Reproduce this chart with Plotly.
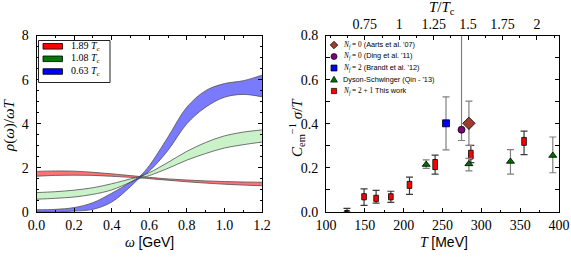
import plotly.graph_objects as go

W, H = 571, 264

# ---------------- Left panel data: spectral function bands ----------------
omega = [0.0, 0.1, 0.2, 0.3, 0.4, 0.5, 0.55, 0.6, 0.7, 0.8, 0.9, 1.0, 1.1, 1.2]

red_hi = [1.84, 1.86, 1.85, 1.80, 1.73, 1.65, 1.61, 1.57, 1.50, 1.45, 1.41, 1.38, 1.36, 1.35]
red_lo = [1.62, 1.66, 1.67, 1.66, 1.62, 1.57, 1.55, 1.51, 1.44, 1.37, 1.31, 1.26, 1.22, 1.19]

green_hi = [0.88, 0.92, 0.99, 1.10, 1.28, 1.50, 1.61, 1.78, 2.25, 2.75, 3.15, 3.45, 3.62, 3.72]
green_lo = [0.58, 0.62, 0.68, 0.80, 1.00, 1.35, 1.53, 1.65, 1.98, 2.35, 2.65, 2.90, 3.05, 3.17]

blue_hi = [0.10, 0.12, 0.20, 0.42, 0.85, 1.35, 1.62, 2.10, 3.40, 4.75, 5.50, 5.82, 5.95, 6.20]
blue_lo = [0.00, 0.01, 0.04, 0.12, 0.45, 1.15, 1.55, 1.85, 2.80, 4.00, 4.75, 5.20, 5.33, 5.22]

band_labels = ["1.89", "1.08", "0.63"]

# ---------------- Right panel data: conductivity ----------------
# This work (Nf = 2+1)
T_red = [127, 149, 164.5, 183.5, 207.5, 240.5, 286.5, 355]
red_box_lo = [0.003, 0.055, 0.048, 0.055, 0.107, 0.192, 0.240, 0.302]
red_box_hi = [0.007, 0.083, 0.076, 0.083, 0.139, 0.238, 0.280, 0.338]
red_err_hi = [0.016, 0.105, 0.098, 0.094, 0.158, 0.258, 0.302, 0.367]
red_err_lo = [0.000, 0.030, 0.040, 0.044, 0.080, 0.172, 0.224, 0.260]
red_halfwidth = 3.0  # MeV

# Dyson-Schwinger (Qin '13)
T_ds = [229, 284, 337.5, 392]
ds_val = [0.215, 0.218, 0.229, 0.256]
ds_hi = [0.236, 0.243, 0.283, 0.340]
ds_lo = [0.198, 0.186, 0.172, 0.178]

# Nf=2 (Brandt et al. '12)
T_br = [254.5]; br_val = [0.402]; br_hi = [0.522]; br_lo = [0.282]
# Nf=0 (Ding et al. '11)
T_di = [274.5]; di_val = [0.373]; di_hi = [1.10]; di_lo = [0.324]
# Nf=0 (Aarts et al. '07)
T_aa = [284]; aa_val = [0.402]; aa_hi = [0.503]; aa_lo = [0.302]

top_ticks = [0.75, 1, 1.25, 1.5, 1.75, 2]
top_ticktext = ["0.75", "1", "1.25", "1.5", "1.75", "2"]
top_minor = [0.5, 0.625, 0.875, 1.125, 1.375, 1.625, 1.875, 2.125]

# ---------------- helpers ----------------
def PX(x):
    return x / W

def PY(y):
    return 1 - y / H

SERIF = "Liberation Serif, Times New Roman, serif"
SANS = "Liberation Sans, Arial, sans-serif"

fig = go.Figure()

def band(lo, hi, fillcolor):
    fig.add_trace(go.Scatter(x=omega, y=lo, mode="lines", line=dict(color="#505050", width=0.8, shape="spline"),
                             showlegend=False, hoverinfo="skip", xaxis="x", yaxis="y"))
    fig.add_trace(go.Scatter(x=omega, y=hi, mode="lines", fill="tonexty", fillcolor=fillcolor,
                             line=dict(color="#505050", width=0.8, shape="spline"),
                             showlegend=False, hoverinfo="skip", xaxis="x", yaxis="y"))

band(red_lo, red_hi, "rgba(255,0,0,0.55)")
band(green_lo, green_hi, "rgba(60,210,60,0.28)")
band(blue_lo, blue_hi, "rgba(0,0,255,0.52)")

# invisible trace so the top T/Tc axis gets drawn
fig.add_trace(go.Scatter(x=top_ticks, y=[None] * len(top_ticks), mode="markers", xaxis="x3", yaxis="y2",
                         showlegend=False, hoverinfo="skip"))

def errpoints(T, v, hi, lo, symbol, color, size, ecolor):
    fig.add_trace(go.Scatter(
        x=T, y=v, mode="markers", xaxis="x2", yaxis="y2", showlegend=False, cliponaxis=False,
        marker=dict(symbol=symbol, color=color, size=size, line=dict(color="black", width=0.8)),
        error_y=dict(type="data", symmetric=False,
                     array=[h - c for h, c in zip(hi, v)],
                     arrayminus=[c - l for l, c in zip(lo, v)],
                     color=ecolor, thickness=1.2, width=3.5)))

red_mid = [(a + b) / 2 for a, b in zip(red_box_lo, red_box_hi)]
fig.add_trace(go.Scatter(
    x=T_red, y=red_mid, mode="markers", xaxis="x2", yaxis="y2", showlegend=False,
    marker=dict(size=1, color="rgba(0,0,0,0)"),
    error_y=dict(type="data", symmetric=False,
                 array=[h - c for h, c in zip(red_err_hi, red_mid)],
                 arrayminus=[c - l for l, c in zip(red_err_lo, red_mid)],
                 color="#3a3a3a", thickness=1.2, width=3.5)))
rx, ry = [], []
for t, lo, hi in zip(T_red, red_box_lo, red_box_hi):
    rx += [t - red_halfwidth, t + red_halfwidth, t + red_halfwidth, t - red_halfwidth, t - red_halfwidth, None]
    ry += [lo, lo, hi, hi, lo, None]
fig.add_trace(go.Scatter(x=rx, y=ry, mode="lines", fill="toself", fillcolor="#ff0000",
                         line=dict(color="black", width=0.8), xaxis="x2", yaxis="y2",
                         showlegend=False, hoverinfo="skip"))

errpoints(T_ds, ds_val, ds_hi, ds_lo, "triangle-up", "#007000", 7, "#808080")
errpoints(T_br, br_val, br_hi, br_lo, "square", "#0000ff", 7, "#808080")
errpoints(T_di, di_val, di_hi, di_lo, "circle", "#800080", 7, "#808080")
errpoints(T_aa, aa_val, aa_hi, aa_lo, "diamond", "#a33a2e", 9.5, "#808080")

# ---------------- axes ----------------
ydom = [PY(212), PY(35.5)]
common = dict(showgrid=False, zeroline=False, showline=True, linecolor="black", linewidth=1,
              ticks="inside", ticklen=4, tickwidth=1, tickcolor="black", automargin=False,
              ticklabeloverflow="allow",
              tickfont=dict(family=SERIF, size=14, color="black"))

fig.update_layout(
    xaxis=dict(domain=[PX(36.5), PX(262)], range=[0, 1.2], dtick=0.2, tick0=0, tickformat=".1f",
               mirror="allticks", anchor="y",
               minor=dict(dtick=0.1, ticks="inside", ticklen=2, tickcolor="black"), **common),
    yaxis=dict(domain=ydom, range=[0, 8], dtick=2, tick0=0, mirror="allticks", anchor="x",
               ticklabelstandoff=4,
               minor=dict(dtick=0.5, ticks="inside", ticklen=2, tickcolor="black"), **common),
    xaxis2=dict(domain=[PX(326), PX(559)], range=[100, 400], dtick=50, tick0=100, mirror=True, anchor="y2",
                minor=dict(dtick=25, ticks="inside", ticklen=2, tickcolor="black"), **common),
    yaxis2=dict(domain=ydom, range=[0, 0.8], dtick=0.2, tick0=0, tickformat=".1f", mirror="allticks",
                anchor="x2", ticklabelstandoff=4,
                minor=dict(dtick=0.1, ticks="inside", ticklen=2, tickcolor="black"), **common),
    xaxis3=dict(overlaying="x2", side="top", anchor="y2", range=[0.468, 2.16], tickmode="array",
                tickvals=top_ticks, ticktext=top_ticktext,
                minor=dict(tickmode="array", tickvals=top_minor, ticks="inside", ticklen=2, tickcolor="black"),
                **common),
)

# ---------------- annotations (titles & legends) ----------------
ann = []
def text(x, y, s, size=13, family=SERIF, xanchor="center", yanchor="middle", angle=0):
    ann.append(dict(x=PX(x), y=PY(y), xref="paper", yref="paper", text=s, showarrow=False,
                    xanchor=xanchor, yanchor=yanchor, textangle=angle,
                    font=dict(family=family, size=size, color="black")))

text(149, 242, "<i>ω</i> <span style='font-family:Liberation Sans'>[GeV]</span>", size=14)
text(444, 242, "<i>T</i> <span style='font-family:Liberation Sans'>[MeV]</span>", size=14)
text(9, 125, "<i>ρ</i>(<i>ω</i>)/<i>ωT</i>", size=15, angle=-90)
text(297, 128, "<i>C</i><sub>em</sub><sup>−1</sup> <i>σ</i>/<i>T</i>", size=15, angle=-90)
text(442, 7.5, "<i>T</i>/<i>T</i><sub>c</sub>", size=15)

shapes = []
shapes.append(dict(type="rect", xref="paper", yref="paper", x0=PX(38.5), x1=PX(110), y0=PY(40.5), y1=PY(82.5),
                   fillcolor="white", line=dict(color="#222222", width=1)))
sw_colors = ["#ff0000", "#007a00", "#0000ff"]
rows = [46.3, 58.8, 71.5]
for c, yy, lab in zip(sw_colors, rows, band_labels):
    shapes.append(dict(type="rect", xref="paper", yref="paper", x0=PX(43), x1=PX(62.5), y0=PY(yy + 2.8),
                       y1=PY(yy - 2.8), fillcolor=c, line=dict(color="black", width=0.8)))
    text(68.5, yy, f"{lab} <i>T</i><sub>c</sub>", size=10, xanchor="left")

leg_rows = [45, 56.5, 68, 79.5, 91]
mx = 334
y0 = leg_rows[0]; r = 3.8
shapes.append(dict(type="path", xref="paper", yref="paper",
                   path=f"M{PX(mx)},{PY(y0-r)} L{PX(mx+r)},{PY(y0)} L{PX(mx)},{PY(y0+r)} L{PX(mx-r)},{PY(y0)} Z",
                   fillcolor="#a33a2e", line=dict(color="black", width=0.7)))
y1 = leg_rows[1]
shapes.append(dict(type="circle", xref="paper", yref="paper", x0=PX(mx-3), x1=PX(mx+3), y0=PY(y1+3), y1=PY(y1-3),
                   fillcolor="#800080", line=dict(color="black", width=0.7)))
y2 = leg_rows[2]
shapes.append(dict(type="rect", xref="paper", yref="paper", x0=PX(mx-3), x1=PX(mx+3), y0=PY(y2+3), y1=PY(y2-3),
                   fillcolor="#0000ff", line=dict(color="black", width=0.7)))
y3 = leg_rows[3]
shapes.append(dict(type="path", xref="paper", yref="paper",
                   path=f"M{PX(mx)},{PY(y3-3.3)} L{PX(mx+3.4)},{PY(y3+2.6)} L{PX(mx-3.4)},{PY(y3+2.6)} Z",
                   fillcolor="#007000", line=dict(color="black", width=0.7)))
y4 = leg_rows[4]
shapes.append(dict(type="rect", xref="paper", yref="paper", x0=PX(mx-2.6), x1=PX(mx+2.6), y0=PY(y4+2.6), y1=PY(y4-2.6),
                   fillcolor="#ff0000", line=dict(color="black", width=0.7)))

nf = lambda s: f"<span style='font-family:Liberation Serif'><i>N</i><sub><i>f</i></sub> = {s}</span>"
leg_texts = [nf("0") + " (Aarts et al. '07)",
             nf("0") + " (Ding et al. '11)",
             nf("2") + " (Brandt et al. '12)",
             "Dyson-Schwinger (Qin - '13)",
             nf("2 + 1") + " This work"]
for yy, s in zip(leg_rows, leg_texts):
    text(340.5, yy, s, size=7.3, family=SANS, xanchor="left")

fig.update_layout(
    width=W, height=H, margin=dict(l=0, r=0, t=0, b=0, pad=0, autoexpand=False),
    paper_bgcolor="white", plot_bgcolor="white", hovermode=False,
    showlegend=False, annotations=ann, shapes=shapes,
    font=dict(family=SERIF, size=13, color="black"),
)

fig.write_html("out.html", config={"displayModeBar": False, "staticPlot": True},
               post_script="document.body.style.margin='0px';document.body.style.overflow='hidden';")
